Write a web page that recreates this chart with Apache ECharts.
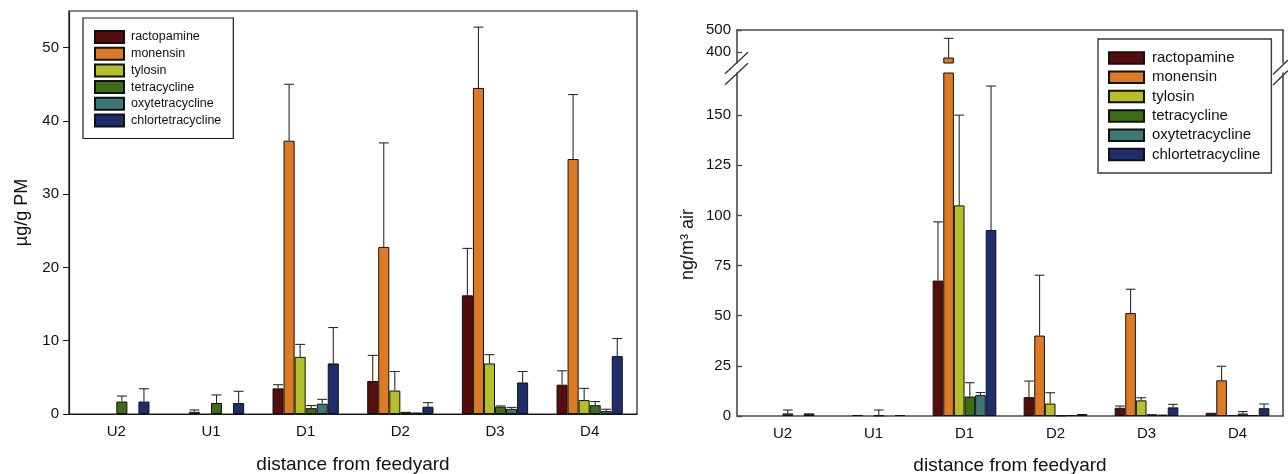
<!DOCTYPE html>
<html>
<head>
<meta charset="utf-8">
<script src="https://cdn.jsdelivr.net/npm/echarts@6/dist/echarts.min.js"></script>
<style>
html,body{margin:0;padding:0;background:#fff;}
#chart{width:1288px;height:474px;}
</style>
</head>
<body>
<div id="chart"></div>
<script>
// ---------- data ----------
const categories = ['U2', 'U1', 'D1', 'D2', 'D3', 'D4'];
const compounds = ['ractopamine', 'monensin', 'tylosin', 'tetracycline', 'oxytetracycline', 'chlortetracycline'];

// Left panel: µg/g PM (bar height, top of error bar)
const pmRactopamine = [0, 0, 3.5, 4.5, 16.2, 4.0];
const pmRactopamineErr = [null, null, 4.0, 8.0, 22.6, 5.9];
const pmMonensin = [0, 0.3, 37.3, 22.8, 44.5, 34.8];
const pmMonensinErr = [null, 0.55, 45.0, 37.0, 52.8, 43.6];
const pmTylosin = [0, 0, 7.8, 3.2, 6.9, 1.9];
const pmTylosinErr = [null, null, 9.5, 5.8, 8.1, 3.5];
const pmTetracycline = [1.7, 1.5, 0.8, 0.3, 1.0, 1.2];
const pmTetracyclineErr = [2.45, 2.6, 1.15, null, 1.1, 1.7];
const pmOxytetracycline = [0, 0, 1.4, 0.2, 0.7, 0.4];
const pmOxytetracyclineErr = [null, null, 2.0, null, 0.9, 0.65];
const pmChlortetracycline = [1.7, 1.5, 6.9, 1.0, 4.3, 7.9];
const pmChlortetracyclineErr = [3.45, 3.1, 11.8, 1.55, 5.8, 10.3];

// Right panel: ng/m3 air
const airRactopamine = [0, 0, 67.5, 9.4, 4.1, 1.6];
const airRactopamineErr = [null, null, 96.8, 17.4, 5.0, null];
const airMonensin = [0, 0.5, 375, 40.1, 51.3, 17.8];
const airMonensinErr = [null, null, 462, 70.2, 63.2, 24.8];
const airTylosin = [0, 0, 105, 6.2, 7.8, 0.5];
const airTylosinErr = [null, null, 150, 11.6, 9.1, null];
const airTetracycline = [1.3, 0.3, 9.7, 0.3, 0.9, 1.2];
const airTetracyclineErr = [3.0, 3.0, 16.6, null, null, 2.2];
const airOxytetracycline = [0, 0, 10.4, 0.5, 0.7, 0.5];
const airOxytetracyclineErr = [null, null, 11.7, null, null, null];
const airChlortetracycline = [1.3, 0.5, 92.7, 1.0, 4.3, 3.9];
const airChlortetracyclineErr = [null, null, 164.5, null, 5.8, 6.0];

// tick labels
const pmTicks = [0, 10, 20, 30, 40, 50];
const airTicksLower = [0, 25, 50, 75, 100, 125, 150];
const airTicksUpper = [400, 500];

// ---------- build ----------
const colors = ['#570c0d', '#dc7b24', '#b5bf26', '#3b6e16', '#3f7676', '#1f2c6e'];
const pmValues = [pmRactopamine, pmMonensin, pmTylosin, pmTetracycline, pmOxytetracycline, pmChlortetracycline];
const pmErrors = [pmRactopamineErr, pmMonensinErr, pmTylosinErr, pmTetracyclineErr, pmOxytetracyclineErr, pmChlortetracyclineErr];
const airValues = [airRactopamine, airMonensin, airTylosin, airTetracycline, airOxytetracycline, airChlortetracycline];
const airErrors = [airRactopamineErr, airMonensinErr, airTylosinErr, airTetracyclineErr, airOxytetracyclineErr, airChlortetracyclineErr];

const LOWER_MAX = 171, UPPER_MIN = 350, UPPER_MAX = 500;
const FONT = '"Liberation Sans", Arial, sans-serif';

function errRender(k) {
  return function (params, api) {
    const band = api.size([1, 0])[0];
    const bw = band * 0.7 / 6;
    const cx = api.coord([api.value(0), 0])[0] + (k - 2.5) * bw;
    const y0 = api.coord([api.value(0), api.value(1)])[1];
    const y1 = api.coord([api.value(0), api.value(2)])[1];
    const cap = bw * 0.9;
    const st = { stroke: '#2b2b2b', lineWidth: 1.1 };
    return {
      type: 'group',
      children: [
        { type: 'line', shape: { x1: cx, y1: y0, x2: cx, y2: y1 }, style: st },
        { type: 'line', shape: { x1: cx - cap / 2, y1: y1, x2: cx + cap / 2, y2: y1 }, style: st }
      ]
    };
  };
}

const noZero = v => (v === 0 ? '-' : v);
const series = [];
const barCommon = { type: 'bar', barGap: '0%', barCategoryGap: '30%', clip: true };

compounds.forEach((name, k) => {
  const itemStyle = { color: colors[k], borderColor: '#111', borderWidth: 1 };
  series.push(Object.assign({}, barCommon, {
    name, xAxisIndex: 0, yAxisIndex: 0, itemStyle, data: pmValues[k].map(noZero)
  }));
  series.push(Object.assign({}, barCommon, {
    name, xAxisIndex: 1, yAxisIndex: 1, itemStyle, data: airValues[k].map(noZero)
  }));
  series.push(Object.assign({}, barCommon, {
    name, xAxisIndex: 2, yAxisIndex: 3, itemStyle,
    data: airValues[k].map(v => v >= UPPER_MIN ? v : '-')
  }));
});

compounds.forEach((name, k) => {
  const pmData = [], lowData = [], upData = [];
  categories.forEach((c, i) => {
    if (pmErrors[k][i] != null) pmData.push([i, pmValues[k][i], pmErrors[k][i]]);
    const e = airErrors[k][i];
    if (e != null) {
      if (airValues[k][i] <= LOWER_MAX) lowData.push([i, airValues[k][i], e]);
      else upData.push([i, airValues[k][i], e]);
    }
  });
  series.push({ type: 'custom', name: 'err-pm-' + name, xAxisIndex: 0, yAxisIndex: 0, z: 5, silent: true,
    renderItem: errRender(k), data: pmData });
  series.push({ type: 'custom', name: 'err-air-' + name, xAxisIndex: 1, yAxisIndex: 1, z: 5, silent: true,
    renderItem: errRender(k), data: lowData });
  series.push({ type: 'custom', name: 'err-airU-' + name, xAxisIndex: 2, yAxisIndex: 3, z: 5, silent: true,
    renderItem: errRender(k), data: upData });
});

const leftLine = { show: true, lineStyle: { color: '#1a1a1a', width: 1.2 } };
const rightLine = { show: true, lineStyle: { color: '#4a4a4a', width: 1.6 } };

const option = {
  animation: false,
  textStyle: { fontFamily: FONT },
  grid: [
    { left: 69, right: 651, top: 11, bottom: 60, show: true, borderColor: '#1a1a1a', borderWidth: 1.2,
      containLabel: false, outerBoundsMode: 'none' },
    { left: 737, right: 5, top: 73, bottom: 58, containLabel: false, outerBoundsMode: 'none' },
    { left: 737, right: 5, top: 30, height: 33, containLabel: false, outerBoundsMode: 'none' }
  ],
  legend: [
    {
      data: compounds, orient: 'vertical', left: 83, top: 18,
      icon: 'rect', itemWidth: 29, itemHeight: 12, itemGap: 2.7,
      padding: [12, 12, 11, 11],
      borderColor: '#1a1a1a', borderWidth: 1.2, backgroundColor: '#fff',
      textStyle: { fontFamily: FONT, fontSize: 12.5, color: '#111', lineHeight: 14, padding: [0, 0, 0, 2] },
      selectedMode: false
    },
    {
      data: compounds, orient: 'vertical', left: 1098, top: 39,
      icon: 'rect', itemWidth: 35, itemHeight: 11.5, itemGap: 2.3,
      padding: [10.5, 11, 10, 10],
      borderColor: '#3a3a3a', borderWidth: 1.4, backgroundColor: '#fff',
      textStyle: { fontFamily: FONT, fontSize: 15, color: '#111', lineHeight: 17, padding: [0, 0, 0, 3] },
      selectedMode: false
    }
  ],
  xAxis: [
    {
      gridIndex: 0, type: 'category', data: categories, position: 'bottom',
      axisLine: leftLine, axisTick: { show: false },
      axisLabel: { fontFamily: FONT, fontSize: 15, color: '#111', margin: 10 },
      name: 'distance from feedyard', nameLocation: 'middle', nameGap: 41,
      nameTextStyle: { fontFamily: FONT, fontSize: 19, color: '#111' }
    },
    {
      gridIndex: 1, type: 'category', data: categories, position: 'bottom',
      axisLine: rightLine, axisTick: { show: false },
      axisLabel: { fontFamily: FONT, fontSize: 15, color: '#111', margin: 10 },
      name: 'distance from feedyard', nameLocation: 'middle', nameGap: 40,
      nameTextStyle: { fontFamily: FONT, fontSize: 19, color: '#111' }
    },
    {
      gridIndex: 2, type: 'category', data: categories, position: 'top',
      axisLine: rightLine, axisTick: { show: false }, axisLabel: { show: false }
    }
  ],
  yAxis: [
    {
      gridIndex: 0, type: 'value', min: 0, max: 55, position: 'left',
      axisLine: leftLine,
      axisTick: { show: true, length: 6, customValues: pmTicks, lineStyle: { color: '#1a1a1a' } },
      axisLabel: { customValues: pmTicks, fontFamily: FONT, fontSize: 15, color: '#111', margin: 10 },
      splitLine: { show: false },
      name: 'µg/g PM', nameLocation: 'middle', nameGap: 38, nameRotate: 90,
      nameTextStyle: { fontFamily: FONT, fontSize: 18, color: '#111' }
    },
    {
      gridIndex: 1, type: 'value', min: 0, max: LOWER_MAX, position: 'left',
      axisLine: rightLine,
      axisTick: { show: true, inside: true, length: 5, customValues: airTicksLower, lineStyle: { color: '#4a4a4a', width: 1.4 } },
      axisLabel: { customValues: airTicksLower, fontFamily: FONT, fontSize: 15, color: '#111', margin: 6 },
      splitLine: { show: false },
      name: 'ng/m³ air', nameLocation: 'middle', nameGap: 40, nameRotate: 90,
      nameTextStyle: { fontFamily: FONT, fontSize: 18, color: '#111' }
    },
    {
      gridIndex: 1, type: 'value', min: 0, max: LOWER_MAX, position: 'right',
      axisLine: rightLine, axisTick: { show: false }, axisLabel: { show: false }, splitLine: { show: false }
    },
    {
      gridIndex: 2, type: 'value', min: UPPER_MIN, max: UPPER_MAX, position: 'left',
      axisLine: rightLine,
      axisTick: { show: true, inside: true, length: 5, customValues: airTicksUpper, lineStyle: { color: '#4a4a4a', width: 1.4 } },
      axisLabel: { customValues: airTicksUpper, fontFamily: FONT, fontSize: 15, color: '#111', margin: 6 },
      splitLine: { show: false }
    },
    {
      gridIndex: 2, type: 'value', min: UPPER_MIN, max: UPPER_MAX, position: 'right',
      axisLine: rightLine, axisTick: { show: false }, axisLabel: { show: false }, splitLine: { show: false }
    }
  ],
  graphic: [
    { type: 'line', shape: { x1: 725, y1: 73.8, x2: 748, y2: 52.3 }, style: { stroke: '#333', lineWidth: 1.3 } },
    { type: 'line', shape: { x1: 725, y1: 84.8, x2: 748, y2: 63.3 }, style: { stroke: '#333', lineWidth: 1.3 } },
    { type: 'line', shape: { x1: 1273, y1: 74.5, x2: 1288, y2: 60 }, style: { stroke: '#333', lineWidth: 1.3 } },
    { type: 'line', shape: { x1: 1273, y1: 85, x2: 1288, y2: 70.5 }, style: { stroke: '#333', lineWidth: 1.3 } }
  ],
  series
};

const chart = echarts.init(document.getElementById('chart'), null, { renderer: 'canvas' });
chart.setOption(option);
</script>
</body>
</html>
